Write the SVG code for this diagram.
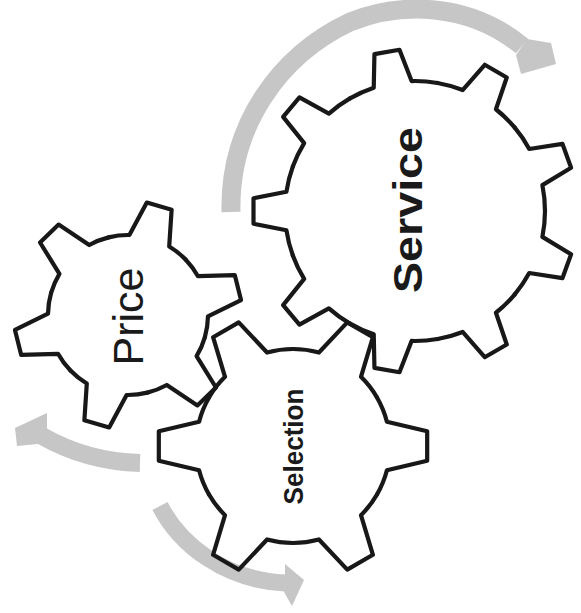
<svg xmlns="http://www.w3.org/2000/svg" width="581" height="613" viewBox="0 0 581 613">
<style>
.gear{fill:none;stroke:#181818;stroke-width:4.2;stroke-linejoin:round;stroke-linecap:round}
.head{fill:#c6c6c6;stroke:none}
.shaft{fill:none;stroke:#c6c6c6;stroke-linecap:butt}
.lbl{font-family:"Liberation Sans",Arial,sans-serif;fill:#1a1a1a;text-anchor:middle}
</style>
<defs>
<path id="svcTooth" d="M122.16,-44.46 A130,130 0 0 1 128.57,-19.22 L161.5,-12.71 L161.5,12.71 L128.57,19.22 A130,130 0 0 1 122.16,44.46"/>
<path id="priTooth" d="M69.28,-40 A80,80 0 0 1 77.27,-20.71 L113.27,-12.9 L113.27,12.9 L77.27,20.71 A80,80 0 0 1 69.28,40"/>
<path id="selTooth" d="M84,-48.5 A97,97 0 0 1 93.91,-24.29 L134.18,-14.81 L134.18,14.81 L93.91,24.29 A97,97 0 0 1 84,48.5"/>
</defs>
<rect width="581" height="613" fill="#ffffff"/>
<g id="connectors">
<g id="arrow-top">
<path class="shaft" stroke-width="19" d="M231,212 C229,125 280,55 350,22 C400,2 468,2 522,46"/>
<polygon class="head" points="527,39 551,43 556,64 521,74 516,55"/>
</g>
<g id="arrow-left">
<path class="shaft" stroke-width="18" d="M140,463 C105,462 70,452 42,436"/>
<polygon class="head" points="47,429 47,413 15,428 17,446 38,444"/>
</g>
<g id="arrow-bottom">
<path class="shaft" stroke-width="17" d="M160,506 C180,545 225,580 285,583"/>
<polygon class="head" points="285,574 285,564 304,580 292,606 284,592"/>
</g>
</g>
<g id="service">
<g class="gear">
<use href="#svcTooth" transform="translate(415,211) rotate(20)"/>
<use href="#svcTooth" transform="translate(415,211) rotate(60)"/>
<use href="#svcTooth" transform="translate(415,211) rotate(100)"/>
<use href="#svcTooth" transform="translate(415,211) rotate(140)"/>
<use href="#svcTooth" transform="translate(415,211) rotate(180)"/>
<use href="#svcTooth" transform="translate(415,211) rotate(220)"/>
<use href="#svcTooth" transform="translate(415,211) rotate(260)"/>
<use href="#svcTooth" transform="translate(415,211) rotate(300)"/>
<use href="#svcTooth" transform="translate(415,211) rotate(340)"/>
</g>
<text class="lbl" font-weight="bold" font-size="40" textLength="166" lengthAdjust="spacingAndGlyphs" transform="translate(422,210) rotate(-90)">Service</text>
</g>
<g id="price">
<g class="gear">
<use href="#priTooth" transform="translate(128,315) rotate(-14)"/>
<use href="#priTooth" transform="translate(128,315) rotate(46)"/>
<use href="#priTooth" transform="translate(128,315) rotate(106)"/>
<use href="#priTooth" transform="translate(128,315) rotate(166)"/>
<use href="#priTooth" transform="translate(128,315) rotate(226)"/>
<use href="#priTooth" transform="translate(128,315) rotate(286)"/>
</g>
<text class="lbl" font-size="43" transform="translate(143,316.5) rotate(-90)">Price</text>
</g>
<g id="selection">
<g class="gear">
<use href="#selTooth" transform="translate(293,446) rotate(0)"/>
<use href="#selTooth" transform="translate(293,446) rotate(60)"/>
<use href="#selTooth" transform="translate(293,446) rotate(120)"/>
<use href="#selTooth" transform="translate(293,446) rotate(180)"/>
<use href="#selTooth" transform="translate(293,446) rotate(240)"/>
<use href="#selTooth" transform="translate(293,446) rotate(300)"/>
</g>
<text class="lbl" font-weight="bold" font-size="28" textLength="116" lengthAdjust="spacingAndGlyphs" transform="translate(303,446.5) rotate(-90)">Selection</text>
</g>
</svg>
